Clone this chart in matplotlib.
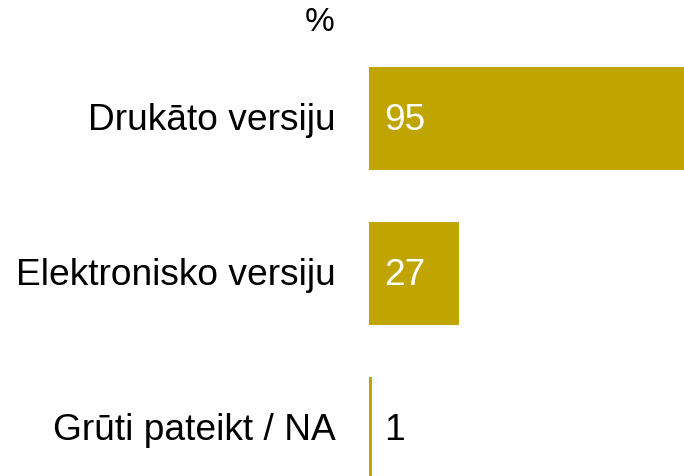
import matplotlib.pyplot as plt

categories = ['Drukāto versiju', 'Elektronisko versiju', 'Grūti pateikt / NA']
values = [95, 27, 1]
unit_label = '%'

bar_color = '#C0A400'
plt.rcParams['font.family'] = ['Liberation Sans', 'DejaVu Sans']

W, H = 684, 476
fig = plt.figure(figsize=(W / 100, H / 100), dpi=100)
ax = fig.add_axes([369 / W, 0, 1 - 369 / W, 1])

pos = list(range(len(categories)))
ax.barh(pos, values, height=0.665, color=bar_color)
ax.set_xlim(0, 95)
ax.set_ylim(2.306, -0.7645)
ax.axis('off')

fs = 26.7
for p, cat, v in zip(pos, categories, values):
    ax.text(-10.1, p + 0.015, cat, ha='right', va='center', fontsize=fs, color='black')
    col = 'white' if v > 5 else 'black'
    ax.text(4.6, p + 0.015, str(v), ha='left', va='center', fontsize=fs, color=col)

ax.text(-10.3, -0.62, unit_label, ha='right', va='center', fontsize=24, color='black')

fig.savefig('out.png', dpi=100)
